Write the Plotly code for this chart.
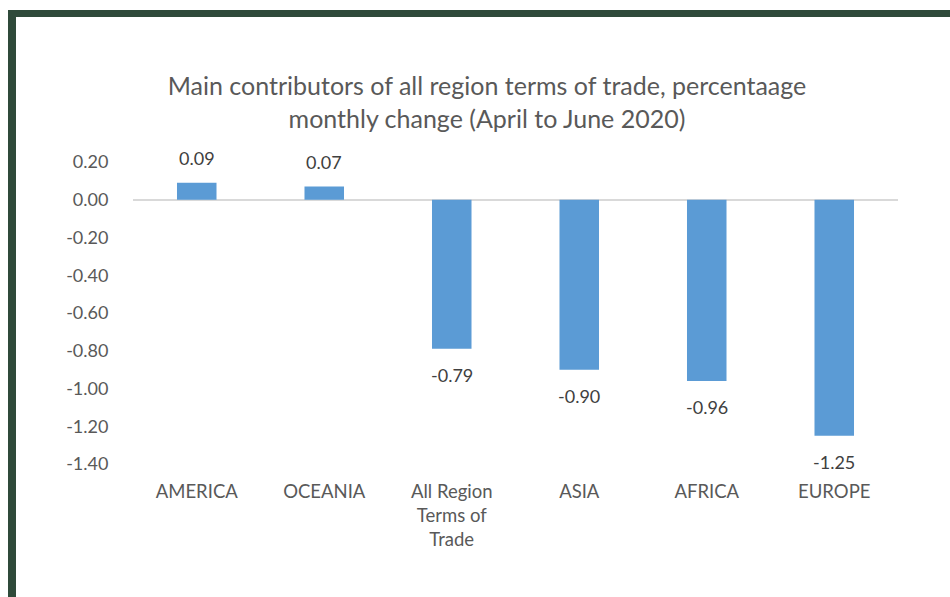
import plotly.graph_objects as go

categories = ["AMERICA", "OCEANIA", "All Region<br>Terms of<br>Trade", "ASIA", "AFRICA", "EUROPE"]
values = [0.09, 0.07, -0.79, -0.90, -0.96, -1.25]
value_labels = ["0.09", "0.07", "-0.79", "-0.90", "-0.96", "-1.25"]
y_ticks = [0.20, 0.00, -0.20, -0.40, -0.60, -0.80, -1.00, -1.20, -1.40]
y_tick_labels = ["0.20", "0.00", "-0.20", "-0.40", "-0.60", "-0.80", "-1.00", "-1.20", "-1.40"]
title_text = "Main contributors of all region terms of trade, percentaage<br>monthly change (April to June 2020)"

W, H = 950, 597
ML, MR, MT, MB = 133, 52, 162, 133
pw, ph = W - ML - MR, H - MT - MB

def px_x(x):
    return (x - ML) / pw

def px_y(y):
    return (H - MB - y) / ph

FONT = "Lato"
GREY = "#595959"

fig = go.Figure()
fig.add_trace(go.Bar(
    x=categories, y=values,
    marker=dict(color="#5b9bd5", line=dict(width=0)),
    width=0.31, hoverinfo="x+y",
))

for c, v, t in zip(categories, values, value_labels):
    pos = v >= 0
    fig.add_annotation(x=c, y=v, text=t, showarrow=False,
                       yanchor="bottom" if pos else "top",
                       yshift=12 if pos else -13,
                       font=dict(family=FONT, size=18, color="#404040"))

border = "#2f4a3a"
fig.add_shape(type="rect", xref="paper", yref="paper",
              x0=px_x(8), x1=px_x(960), y0=px_y(10), y1=px_y(17),
              fillcolor=border, line=dict(width=0), layer="above")
fig.add_shape(type="rect", xref="paper", yref="paper",
              x0=px_x(8), x1=px_x(16), y0=px_y(10), y1=px_y(610),
              fillcolor=border, line=dict(width=0), layer="above")

fig.update_layout(
    width=W, height=H,
    margin=dict(l=ML, r=MR, t=MT, b=MB, pad=0),
    paper_bgcolor="white", plot_bgcolor="white",
    showlegend=False,
    title=dict(text=title_text, x=487 / W, xanchor="center", y=1 - 95 / H, yanchor="top",
               font=dict(family=FONT, size=25, color=GREY)),
    font=dict(family=FONT, size=18, color=GREY),
    xaxis=dict(showline=False, showgrid=False, zeroline=False,
               ticks="outside", ticklen=11, tickcolor="rgba(0,0,0,0)",
               tickfont=dict(family=FONT, size=18.5, color=GREY)),
    yaxis=dict(range=[-1.40, 0.20], tickvals=y_ticks, ticktext=y_tick_labels,
               showgrid=False, zeroline=True, zerolinecolor="#d9d9d9", zerolinewidth=2,
               showline=False, ticks="outside", ticklen=20, tickcolor="rgba(0,0,0,0)",
               tickfont=dict(family=FONT, size=18, color=GREY)),
)

fig.write_html("out.html", config={"displayModeBar": False},
               post_script="document.body.style.margin='0';document.body.style.overflow='hidden';")
